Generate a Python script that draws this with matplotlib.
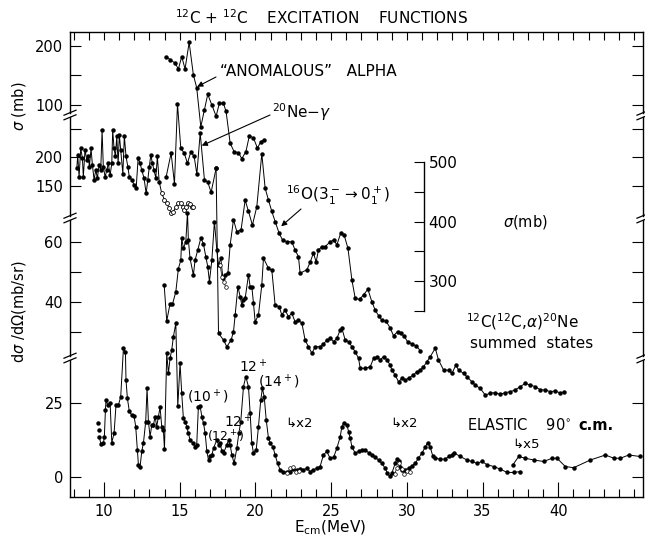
import numpy as np
import matplotlib
matplotlib.use("Agg")
import matplotlib.pyplot as plt
from matplotlib.lines import Line2D
from matplotlib.ticker import MultipleLocator

# ---- data (E_cm in MeV) ----
# "anomalous" alpha, sigma (mb)
anom_e = [14.10, 14.36, 14.69, 14.91, 15.13, 15.35, 15.62, 15.90, 16.12, 16.39, 16.63, 16.85, 17.12,
          17.40, 17.62, 17.88, 18.06, 18.33, 18.59, 18.88, 19.10, 19.37, 19.60, 19.87, 20.13, 20.36, 20.58]
anom_s = [182, 177, 171, 161, 182, 161, 206, 151, 129, 63, 92, 118, 100,
          81, 103, 103, 89, 35, 21, 19, 9, 21, 48, 44, 27, 38, 41]

# 20Ne-gamma, sigma (mb), first run (filled) + its open-circle tail
ne1_e = [8.20, 8.26, 8.35, 8.46, 8.57, 8.63, 8.74, 8.86, 8.96, 9.03, 9.14, 9.23, 9.34, 9.45, 9.56,
         9.67, 9.78, 9.87, 9.95, 10.07, 10.18, 10.28, 10.40, 10.51, 10.57, 10.66, 10.75, 10.84, 10.93,
         11.01, 11.10, 11.24, 11.34, 11.45, 11.57, 11.67, 11.83, 11.98, 12.12, 12.25, 12.38, 12.49,
         12.64, 12.78, 12.89, 12.99, 13.09, 13.19, 13.30, 13.42, 13.52, 13.64]
ne1_s = [180, 204, 165, 215, 198, 165, 212, 195, 201, 183, 215, 186, 160, 177, 163,
         186, 177, 247, 183, 165, 177, 189, 168, 189, 247, 215, 201, 236, 189,
         239, 212, 171, 237, 201, 183, 165, 160, 151, 145, 198, 189, 177,
         163, 136, 160, 183, 204, 189, 177, 163, 201, 157]
ne1o_e = [13.81, 13.99, 14.14, 14.30, 14.43, 14.58, 14.74, 14.91, 15.07, 15.20, 15.31, 15.42,
          15.53, 15.66, 15.80, 15.90]
ne1o_s = [136, 125, 119, 110, 101, 104, 113, 119, 120, 113, 107, 112, 119, 118, 113, 112]
# 20Ne-gamma, second run
ne2_e = [14.10, 14.43, 14.65, 14.85, 15.07, 15.29, 15.51, 15.73, 15.95, 16.13, 16.35, 16.63,
         16.85, 17.07, 17.40]
ne2_s = [165, 207, 153, 293, 215, 207, 189, 209, 201, 170, 242, 160, 156, 138, 180]

# 16O(3- -> 0+), sigma (mb), inset scale
o16_e = [13.97, 14.14, 14.36, 14.52, 14.74, 14.91, 15.07, 15.13, 15.24, 15.40, 15.51, 15.57, 15.68,
         15.90, 16.01, 16.19, 16.39, 16.56, 16.72, 16.85, 16.96, 17.12, 17.29, 17.45, 17.56, 17.71,
         17.85, 18.00, 18.18, 18.33, 18.55, 18.77, 19.05, 19.32, 19.54, 19.80, 20.09, 20.42, 20.64,
         20.86, 21.08, 21.30, 21.57, 21.79, 22.07, 22.40, 22.62, 22.84, 22.95, 23.40, 23.62, 23.83,
         24.01, 24.16, 24.39, 24.61, 24.94, 25.16, 25.38, 25.64, 25.86, 26.11, 26.37, 26.59, 26.88,
         27.14, 27.43, 27.69, 27.91, 28.13, 28.35, 28.64, 28.90, 29.12, 29.39, 29.61, 29.83, 30.05,
         30.34, 30.62, 30.89]
o16_s = [293, 233, 262, 261, 282, 321, 335, 372, 355, 366, 415, 369, 338,
         310, 335, 352, 372, 363, 341, 324, 299, 335, 400, 352, 327, 338,
         305, 310, 313, 361, 403, 383, 386, 436, 417, 394, 425, 514, 456,
         436, 417, 400, 380, 369, 366, 366, 352, 341, 313, 319, 332, 347,
         332, 352, 358, 358, 366, 369, 361, 381, 377, 355, 302, 271, 269,
         277, 286, 265, 251, 242, 234, 232, 221, 208, 215, 212, 207, 198,
         194, 191, 183]
o16o_e = [17.67, 17.78, 17.89, 18.04]
o16o_s = [327, 307, 299, 290]

# 12C(12C,a)20Ne summed states, dsigma/dOmega (mb/sr)
ss_e = [17.40, 17.56, 17.89, 18.11, 18.39, 18.55, 18.66, 18.84, 18.99, 19.10, 19.21, 19.32, 19.54,
        19.65, 19.76, 19.87, 19.98, 20.20, 20.42, 20.53, 20.86, 21.08, 21.30, 21.57, 21.74, 21.96,
        22.18, 22.40, 22.62, 22.84, 23.07, 23.28, 23.50, 23.73, 23.95, 24.28, 24.49, 24.72, 24.94,
        25.16, 25.38, 25.60, 25.71, 25.93, 26.15, 26.37, 26.59, 26.81, 26.92, 27.25, 27.58, 27.80,
        28.02, 28.24, 28.46, 28.68, 28.90, 29.01, 29.23, 29.45, 29.68, 29.89, 30.11, 30.44, 30.67,
        30.89, 31.10, 31.33, 31.55, 31.88, 32.09, 32.43, 32.76, 32.98, 33.24, 33.42, 33.75, 33.97,
        34.30, 34.52, 34.85, 35.18, 35.51, 35.84, 36.17, 36.50, 36.83, 37.16, 37.49, 37.83, 38.16,
        38.49, 38.82, 39.15, 39.48, 39.81, 40.14, 40.36]
ss_v = [84.6, 29.6, 27.3, 25.1, 27.3, 30.1, 35.7, 45.1, 41.8, 39.0, 40.7, 41.2, 49.0,
        45.1, 45.1, 39.6, 33.4, 35.7, 45.7, 54.6, 51.2, 50.7, 39.0, 38.4, 35.7, 37.3,
        35.1, 36.2, 33.4, 34.0, 32.9, 27.3, 25.1, 22.9, 25.1, 25.1, 26.0, 27.3, 27.9,
        26.8, 27.9, 30.7, 31.2, 27.3, 26.8, 25.1, 23.4, 21.2, 17.9, 17.9, 18.4, 21.2,
        21.6, 20.7, 21.8, 20.7, 19.0, 17.3, 15.7, 13.4, 14.6, 14.0, 14.6, 15.7, 16.8,
        17.3, 18.4, 20.1, 21.8, 24.6, 20.7, 17.3, 17.3, 16.2, 19.0, 17.3, 16.2, 15.1,
        13.4, 12.3, 11.2, 9.0, 9.6, 9.8, 9.2, 9.8, 10.1, 10.7, 11.8, 12.9, 12.3,
        11.8, 10.7, 10.7, 10.1, 10.4, 9.6, 10.1]

# elastic 90 deg c.m., dsigma/dOmega (mb/sr)
el_e = [9.67, 9.80, 9.96, 10.02, 10.09, 10.13, 10.24, 10.40, 10.51, 10.66,
        10.79, 10.95, 11.10, 11.28, 11.41, 11.45, 11.54, 11.67, 11.83, 11.98,
        12.09, 12.20, 12.27, 12.38, 12.49, 12.60, 12.75, 12.84, 12.93, 13.04,
        13.15, 13.26, 13.37, 13.48, 13.59, 13.70, 13.81, 13.92, 13.99, 14.14,
        14.25, 14.36, 14.47, 14.58, 14.74, 14.87, 15.02, 15.13, 15.24, 15.35,
        15.46, 15.57, 15.68, 15.86, 16.01, 16.12, 16.23, 16.34, 16.46, 16.57,
        16.68, 16.79, 16.90, 17.01, 17.12, 17.23, 17.45, 17.56, 17.67, 17.78,
        17.89, 18.11, 18.22, 18.33, 18.44, 18.59, 18.77, 18.90, 19.03, 19.21,
        19.36, 19.54, 19.65, 19.76, 19.87, 20.05, 20.20, 20.35, 20.46, 20.58,
        20.71, 20.86, 20.97, 21.15, 21.30, 21.46, 21.63, 21.85, 22.07, 22.29,
        22.51, 22.73, 22.95, 23.17, 23.39, 23.61, 23.83, 24.05, 24.27, 24.49,
        24.71, 24.93, 25.16, 25.38, 25.60, 25.71, 25.82, 26.04, 26.15, 26.26,
        26.37, 26.59, 26.81, 27.03, 27.25, 27.47, 27.69, 27.91, 28.13, 28.35,
        28.57, 28.72, 28.86, 29.01, 29.23, 29.34, 29.45, 29.56, 29.67, 29.89,
        30.11, 30.33, 30.55, 30.77, 30.99, 31.21, 31.37, 31.54, 31.72, 31.87,
        32.21, 32.54, 32.76, 32.98, 33.09, 33.53, 33.97, 34.30, 34.63, 34.97,
        35.30, 35.74, 36.18, 36.62, 37.06, 37.50]
el_v = [13.5, 11.0, 11.3, 13.5, 22.5, 25.9, 24.2, 24.8, 11.5, 14.6,
        24.2, 24.2, 27.0, 43.4, 42.2, 32.6, 26.5, 22.0, 20.8, 20.5,
        16.9, 9.0, 4.0, 3.4, 8.5, 11.3, 18.6, 29.8, 18.6, 13.5,
        17.4, 17.4, 20.3, 16.9, 20.3, 23.4, 16.9, 15.8, 9.2, 41.7,
        34.9, 40.0, 42.8, 47.3, 51.8, 23.7, 38.3, 28.2, 19.7, 18.6,
        16.9, 14.6, 12.4, 11.3, 10.1, 10.7, 23.4, 23.9, 20.3, 18.0,
        14.6, 8.5, 5.6, 6.8, 7.3, 9.6, 12.4, 10.7, 11.3, 8.5,
        7.9, 10.7, 12.2, 10.7, 7.3, 4.5, 9.6, 14.6, 18.6, 30.4,
        33.8, 30.4, 21.4, 11.3, 7.9, 9.0, 16.9, 25.9, 29.8, 27.0,
        19.2, 13.0, 11.3, 10.1, 7.3, 4.5, 2.3, 1.7, 1.4, 1.7,
        2.5, 2.3, 2.6, 2.3, 2.8, 1.7, 2.3, 2.8, 3.4, 7.3,
        8.5, 6.2, 6.5, 9.6, 13.5, 16.9, 18.0, 17.5, 15.2, 13.0,
        10.1, 7.9, 8.5, 9.0, 9.0, 8.1, 7.3, 6.5, 5.6, 4.5,
        2.8, 1.1, 0.2, 1.1, 4.5, 5.9, 5.1, 3.4, 2.3, 2.3,
        2.8, 3.6, 4.5, 6.2, 7.9, 9.9, 11.5, 10.1, 6.8, 6.2,
        5.9, 5.9, 6.8, 7.3, 8.1, 6.8, 5.6, 5.1, 4.5, 5.1,
        4.0, 3.4, 2.5, 1.4, 1.4, 1.7]
el_dots_e = [9.62, 9.69]
el_dots_v = [18.0, 15.9]
elo1_e = [22.1, 22.3, 22.5, 22.7, 22.9]
elo1_v = [1.2, 2.8, 3.2, 1.4, 2.0]
elo2_e = [29.2, 29.35, 29.5, 29.65, 29.8, 30.0, 30.2]
elo2_v = [1.0, 3.0, 4.6, 2.5, 1.0, 1.8, 1.5]
el5_e = [37.01, 37.39, 37.83, 38.38, 39.04, 39.59, 39.92, 40.47, 41.02, 42.12, 43.12, 43.67,
         44.11, 44.66, 45.38]
el5_v = [4.0, 6.8, 6.2, 5.6, 5.1, 6.2, 6.2, 3.4, 3.0, 5.6, 7.3, 6.2, 6.2, 7.3, 6.8]

# ---- layout (pixels of a 645x542 canvas) ----
W, H = 645, 542
XL, XR = 70, 643
xlim = (7.75, 45.6)
panels = [(32, 113, (86.4, 223.7)),     # anomalous alpha, mb
          (117, 216, (96.5, 270.2)),    # 20Ne-gamma, mb
          (220, 356, (22.0, 67.3)),     # dsigma/dOmega
          (360, 497, (-6.9, 39.4))]     # elastic
yt = [([100, 150, 200], ["100", "", "200"]),
      ([150, 200, 250], ["150", "200", ""]),
      ([30, 40, 50, 60], ["", "40", "", "60"]),
      ([0, 25], ["0", "25"])]


def fpos(px, py):
    return px / W, 1 - py / H


plt.rcParams['font.family'] = 'DejaVu Sans'
fig = plt.figure(figsize=(6.45, 5.42), dpi=100)

axs = []
for i, (top, bot, yl) in enumerate(panels):
    ax = fig.add_axes([XL / W, 1 - bot / H, (XR - XL) / W, (bot - top) / H])
    ax.patch.set_alpha(0)
    ax.set_xlim(*xlim)
    ax.set_ylim(*yl)
    ax.set_yticks(yt[i][0])
    ax.set_yticklabels(yt[i][1])
    ax.tick_params(axis='y', direction='in', left=True, right=True, length=8, width=0.8,
                   labelsize=10.5, pad=5)
    for s in ['left', 'right', 'top', 'bottom']:
        ax.spines[s].set_linewidth(1.0)
    ax.spines['top'].set_visible(i == 0)
    ax.spines['bottom'].set_visible(i == 3)
    if i == 0:
        ax.xaxis.set_major_locator(MultipleLocator(1))
        ax.tick_params(axis='x', which='both', direction='in', top=True, bottom=False,
                       labeltop=False, labelbottom=False, length=6, width=0.8)
    elif i == 3:
        ax.set_xticks([10, 15, 20, 25, 30, 35, 40])
        ax.xaxis.set_minor_locator(MultipleLocator(1))
        ax.tick_params(axis='x', which='major', direction='in', top=False, length=11,
                       width=0.8, labelsize=10.5, pad=5)
        ax.tick_params(axis='x', which='minor', direction='in', top=False, length=6, width=0.8)
    else:
        ax.tick_params(axis='x', which='both', bottom=False, top=False, labelbottom=False)
    axs.append(ax)

axA, axB, axC, axD = axs
st = dict(color='k', lw=0.7, marker='o', ms=2.2, clip_on=False)

axA.plot(anom_e, anom_s, **st)

axB.plot(ne1_e + ne1o_e, ne1_s + ne1o_s, color='k', lw=0.7, clip_on=False)
axB.plot(ne1_e, ne1_s, ls='none', marker='o', ms=2.2, color='k', clip_on=False)
axB.plot(ne1o_e, ne1o_s, ls='none', marker='o', ms=2.8, mfc='white', mec='k', mew=0.6,
         clip_on=False)
axB.plot(ne2_e, ne2_s, **st)

axC.plot(ss_e, ss_v, **st)

axD.plot(el_e, el_v, **st)
axD.plot(el_dots_e, el_dots_v, ls='none', marker='o', ms=2.2, color='k', clip_on=False)
axD.plot(elo1_e, elo1_v, color='k', lw=0.5, marker='o', ms=2.6, mfc='white', mew=0.5,
         clip_on=False)
axD.plot(elo2_e, elo2_v, color='k', lw=0.5, marker='o', ms=2.6, mfc='white', mew=0.5,
         clip_on=False)
axD.plot(el5_e, el5_v, **st)

# inset sigma(mb) scale for the 16O curve
ax16 = fig.add_axes([XL / W, 1 - 497 / H, (XR - XL) / W, (497 - 32) / H])
ax16.patch.set_alpha(0)
ax16.set_xlim(*xlim)
ax16.set_ylim(-63, 718.5)
for s in ['left', 'top', 'bottom']:
    ax16.spines[s].set_visible(False)
ax16.spines['right'].set_position(('data', 31.15))
ax16.spines['right'].set_bounds(250, 500)
ax16.spines['right'].set_linewidth(1.0)
ax16.set_xticks([])
ax16.yaxis.set_ticks_position('right')
ax16.set_yticks([250, 300, 350, 400, 450, 500])
ax16.set_yticklabels(["", "300", "", "400", "", "500"])
ax16.tick_params(axis='y', direction='in', length=7, width=0.8, labelsize=11, pad=3)
ax16.plot(o16_e, o16_s, **st)
ax16.plot(o16o_e, o16o_s, color='k', lw=0.5, marker='o', ms=2.6, mfc='white', mew=0.5,
          clip_on=False)

# axis breaks
for gy in [115, 218, 358]:
    for gx in [XL, XR]:
        for dy in (-2.3, 2.3):
            p0 = fpos(gx - 6, gy + dy + 2.5)
            p1 = fpos(gx + 6, gy + dy - 2.5)
            fig.add_artist(Line2D([p0[0], p1[0]], [p0[1], p1[1]], color='k', lw=0.9,
                                  transform=fig.transFigure))

# text
def t(px, py, s, **kw):
    kw.setdefault('fontsize', 10)
    kw.setdefault('ha', 'left')
    kw.setdefault('va', 'center')
    fig.text(*fpos(px, py), s, **kw)


t(322, 18, r"$^{12}$C + $^{12}$C    EXCITATION    FUNCTIONS", ha='center', fontsize=11)
t(19, 106, r"$\sigma$ (mb)", ha='center', rotation=90, fontsize=10.5)
t(19, 312, r"d$\sigma$ /d$\Omega$(mb/sr)", ha='center', rotation=90, fontsize=10.5)
t(330, 528, r"E$_{\rm cm}$(MeV)", ha='center', fontsize=11)

t(220, 72, "\u201cANOMALOUS\u201d   ALPHA", fontsize=11)
t(272, 112, r"$^{20}$Ne$-\gamma$", fontsize=11)
t(286, 195, r"$^{16}$O(3$_1^-$$\rightarrow$0$_1^+$)", fontsize=11)
t(503, 222, r"$\sigma$(mb)", fontsize=10.5)
t(466, 322, r"$^{12}$C($^{12}$C,$\alpha$)$^{20}$Ne", fontsize=11)
t(470, 343, "summed  states", fontsize=11)
t(467, 425, "ELASTIC    90$^{\\circ}$", fontsize=10.5)
t(578, 425, "c.m.", fontsize=10.5, fontweight='bold')
t(512, 444, "\u21b3x5", fontsize=9.5)
t(285, 423, "\u21b3x2", fontsize=9.5)
t(390, 423, "\u21b3x2", fontsize=9.5)
t(187, 397, r"(10$^+$)", fontsize=10)
t(239, 367, r"12$^+$", fontsize=10)
t(258, 382, r"(14$^+$)", fontsize=10)
t(207, 437, r"(12$^+$)", fontsize=9)
t(224, 422, r"12$^+$", fontsize=10)

ap = dict(arrowstyle='-|>', color='k', lw=0.8, mutation_scale=8, shrinkA=0, shrinkB=0)
axA.annotate('', xy=(16.15, 131), xytext=fpos(216, 77), textcoords='figure fraction',
             arrowprops=ap)
axB.annotate('', xy=(16.45, 220), xytext=fpos(270, 115), textcoords='figure fraction',
             arrowprops=ap)
ax16.annotate('', xy=(21.7, 392), xytext=fpos(301, 209), textcoords='figure fraction',
              arrowprops=ap)
axC.annotate('', xy=(34.35, 15.8), xytext=fpos(490, 355), textcoords='figure fraction',
             arrowprops=ap)

fig.savefig("out.png", dpi=100)
